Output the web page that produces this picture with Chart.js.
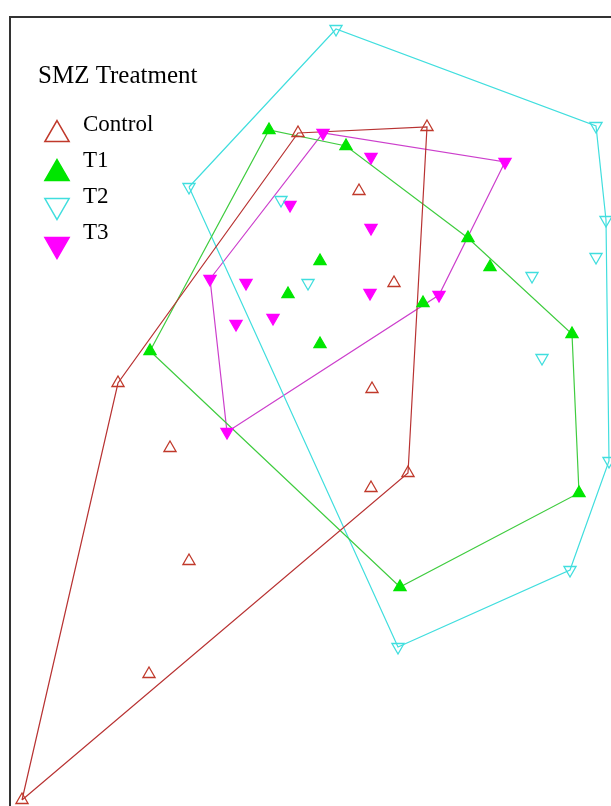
<!DOCTYPE html>
<html>
<head>
<meta charset="utf-8">
<script src="https://cdn.jsdelivr.net/npm/chart.js@4.4.1/dist/chart.umd.min.js"></script>
<style>
  html, body { margin: 0; padding: 0; background: #fff; overflow: hidden; }
  #wrap { width: 611px; height: 806px; overflow: hidden; position: relative; }
</style>
</head>
<body>
<div id="wrap"><canvas id="nmds" width="660" height="860"></canvas></div>
<script>
// NMDS ordination scores (axes are not shown in the original)
const controlX = [-0.048, 0.468, 0.196, 0.336, -0.768, 0.248, -0.56, 0.392, 0.244, -0.484, -0.644, -1.152];
const controlY = [1.136, 1.16, 0.904, 0.536, 0.136, 0.112, -0.124, -0.224, -0.284, -0.576, -1.028, -1.532];

const t1X = [-0.164, 0.144, 0.632, 0.72, 0.04, -0.088, 0.452, 0.04, -0.64, 1.048, 1.076, 0.36];
const t1Y = [1.148, 1.084, 0.716, 0.6, 0.624, 0.492, 0.456, 0.292, 0.264, 0.332, -0.304, -0.68];

const t2X = [0.104, 1.144, 1.184, 1.144, 0.888, 0.928, -0.484, -0.116, -0.008, 1.196, 1.04, 0.352];
const t2Y = [1.552, 1.164, 0.788, 0.64, 0.564, 0.236, 0.92, 0.868, 0.536, -0.176, -0.612, -0.92];

const t3X = [0.052, 0.244, 0.78, -0.08, 0.244, -0.4, -0.256, 0.24, 0.516, -0.296, -0.148, -0.332];
const t3Y = [1.136, 1.04, 1.02, 0.848, 0.756, 0.552, 0.536, 0.496, 0.488, 0.372, 0.396, -0.06];

const groupNames = ["Control", "T1", "T2", "T3"];
const legendTitle = "SMZ Treatment";

const groups = [
  { name: groupNames[0], xs: controlX, ys: controlY, color: "#c0392b", line: "#b83232", filled: false, down: false },
  { name: groupNames[1], xs: t1X, ys: t1Y, color: "#00e600", line: "#3fcc3f", filled: true, down: false },
  { name: groupNames[2], xs: t2X, ys: t2Y, color: "#40dede", line: "#40dede", filled: false, down: true },
  { name: groupNames[3], xs: t3X, ys: t3Y, color: "#ff00ff", line: "#cc3fcc", filled: true, down: true },
];

// convex hull (monotone chain), closed
function hull(points) {
  const p = [...points].sort((a, b) => a.x - b.x || a.y - b.y);
  const cross = (o, a, b) => (a.x - o.x) * (b.y - o.y) - (a.y - o.y) * (b.x - o.x);
  const lower = [];
  for (const q of p) {
    while (lower.length >= 2 && cross(lower[lower.length - 2], lower[lower.length - 1], q) <= 0) lower.pop();
    lower.push(q);
  }
  const upper = [];
  for (let i = p.length - 1; i >= 0; i--) {
    const q = p[i];
    while (upper.length >= 2 && cross(upper[upper.length - 2], upper[upper.length - 1], q) <= 0) upper.pop();
    upper.push(q);
  }
  upper.pop();
  lower.pop();
  const h = lower.concat(upper);
  h.push(h[0]);
  return h;
}

const datasets = [];
groups.forEach((g) => {
  const pts = g.xs.map((x, i) => ({ x, y: g.ys[i] }));
  datasets.push({
    label: g.name,
    data: pts,
    showLine: false,
    pointStyle: "triangle",
    pointRotation: g.down ? 180 : 0,
    pointRadius: 7,
    pointHoverRadius: 7,
    pointBorderWidth: 1.3,
    borderColor: g.color,
    pointBorderColor: g.color,
    pointBackgroundColor: g.filled ? g.color : "rgba(0,0,0,0)",
    order: 0,
  });
  datasets.push({
    label: g.name + " hull",
    data: hull(pts),
    showLine: true,
    pointRadius: 0,
    borderColor: g.line,
    borderWidth: 1.2,
    fill: false,
    tension: 0,
    order: 1,
  });
});

const framePlugin = {
  id: "frame",
  afterDraw(chart) {
    const { ctx, chartArea } = chart;
    ctx.save();
    ctx.strokeStyle = "#333";
    ctx.lineWidth = 2;
    ctx.strokeRect(chartArea.left, chartArea.top, chartArea.right - chartArea.left, chartArea.bottom - chartArea.top);
    ctx.restore();
  },
};

const legendPlugin = {
  id: "ordLegend",
  afterDraw(chart) {
    const { ctx } = chart;
    const r = 14;
    ctx.save();
    ctx.fillStyle = "#000";
    ctx.textBaseline = "alphabetic";
    ctx.font = '25px "Liberation Serif", "Times New Roman", serif';
    ctx.fillText(legendTitle, 38, 83);
    ctx.font = '23px "Liberation Serif", "Times New Roman", serif';
    groups.forEach((g, i) => {
      ctx.fillStyle = "#000";
      ctx.fillText(g.name, 83, 131 + i * 36);
      ctx.strokeStyle = g.color;
      ctx.fillStyle = g.filled ? g.color : "rgba(0,0,0,0)";
      ctx.lineWidth = 1.5;
      const cy = 131 + i * 39 + (g.down ? -r / 4 : r / 4);
      Chart.helpers.drawPoint(ctx, {
        pointStyle: "triangle",
        radius: r,
        rotation: g.down ? 180 : 0,
        borderWidth: 1.5,
      }, 57, cy);
    });
    ctx.restore();
  },
};

new Chart(document.getElementById("nmds"), {
  type: "scatter",
  data: { datasets },
  options: {
    responsive: false,
    animation: false,
    layout: { autoPadding: false, padding: { left: 10, top: 17, right: 0, bottom: 0 } },
    scales: {
      x: { type: "linear", min: -1.2, max: 1.4, display: false },
      y: { type: "linear", min: -1.772, max: 1.6, display: false },
    },
    plugins: {
      legend: { display: false },
      tooltip: { enabled: false },
    },
  },
  plugins: [framePlugin, legendPlugin],
});
</script>
</body>
</html>
